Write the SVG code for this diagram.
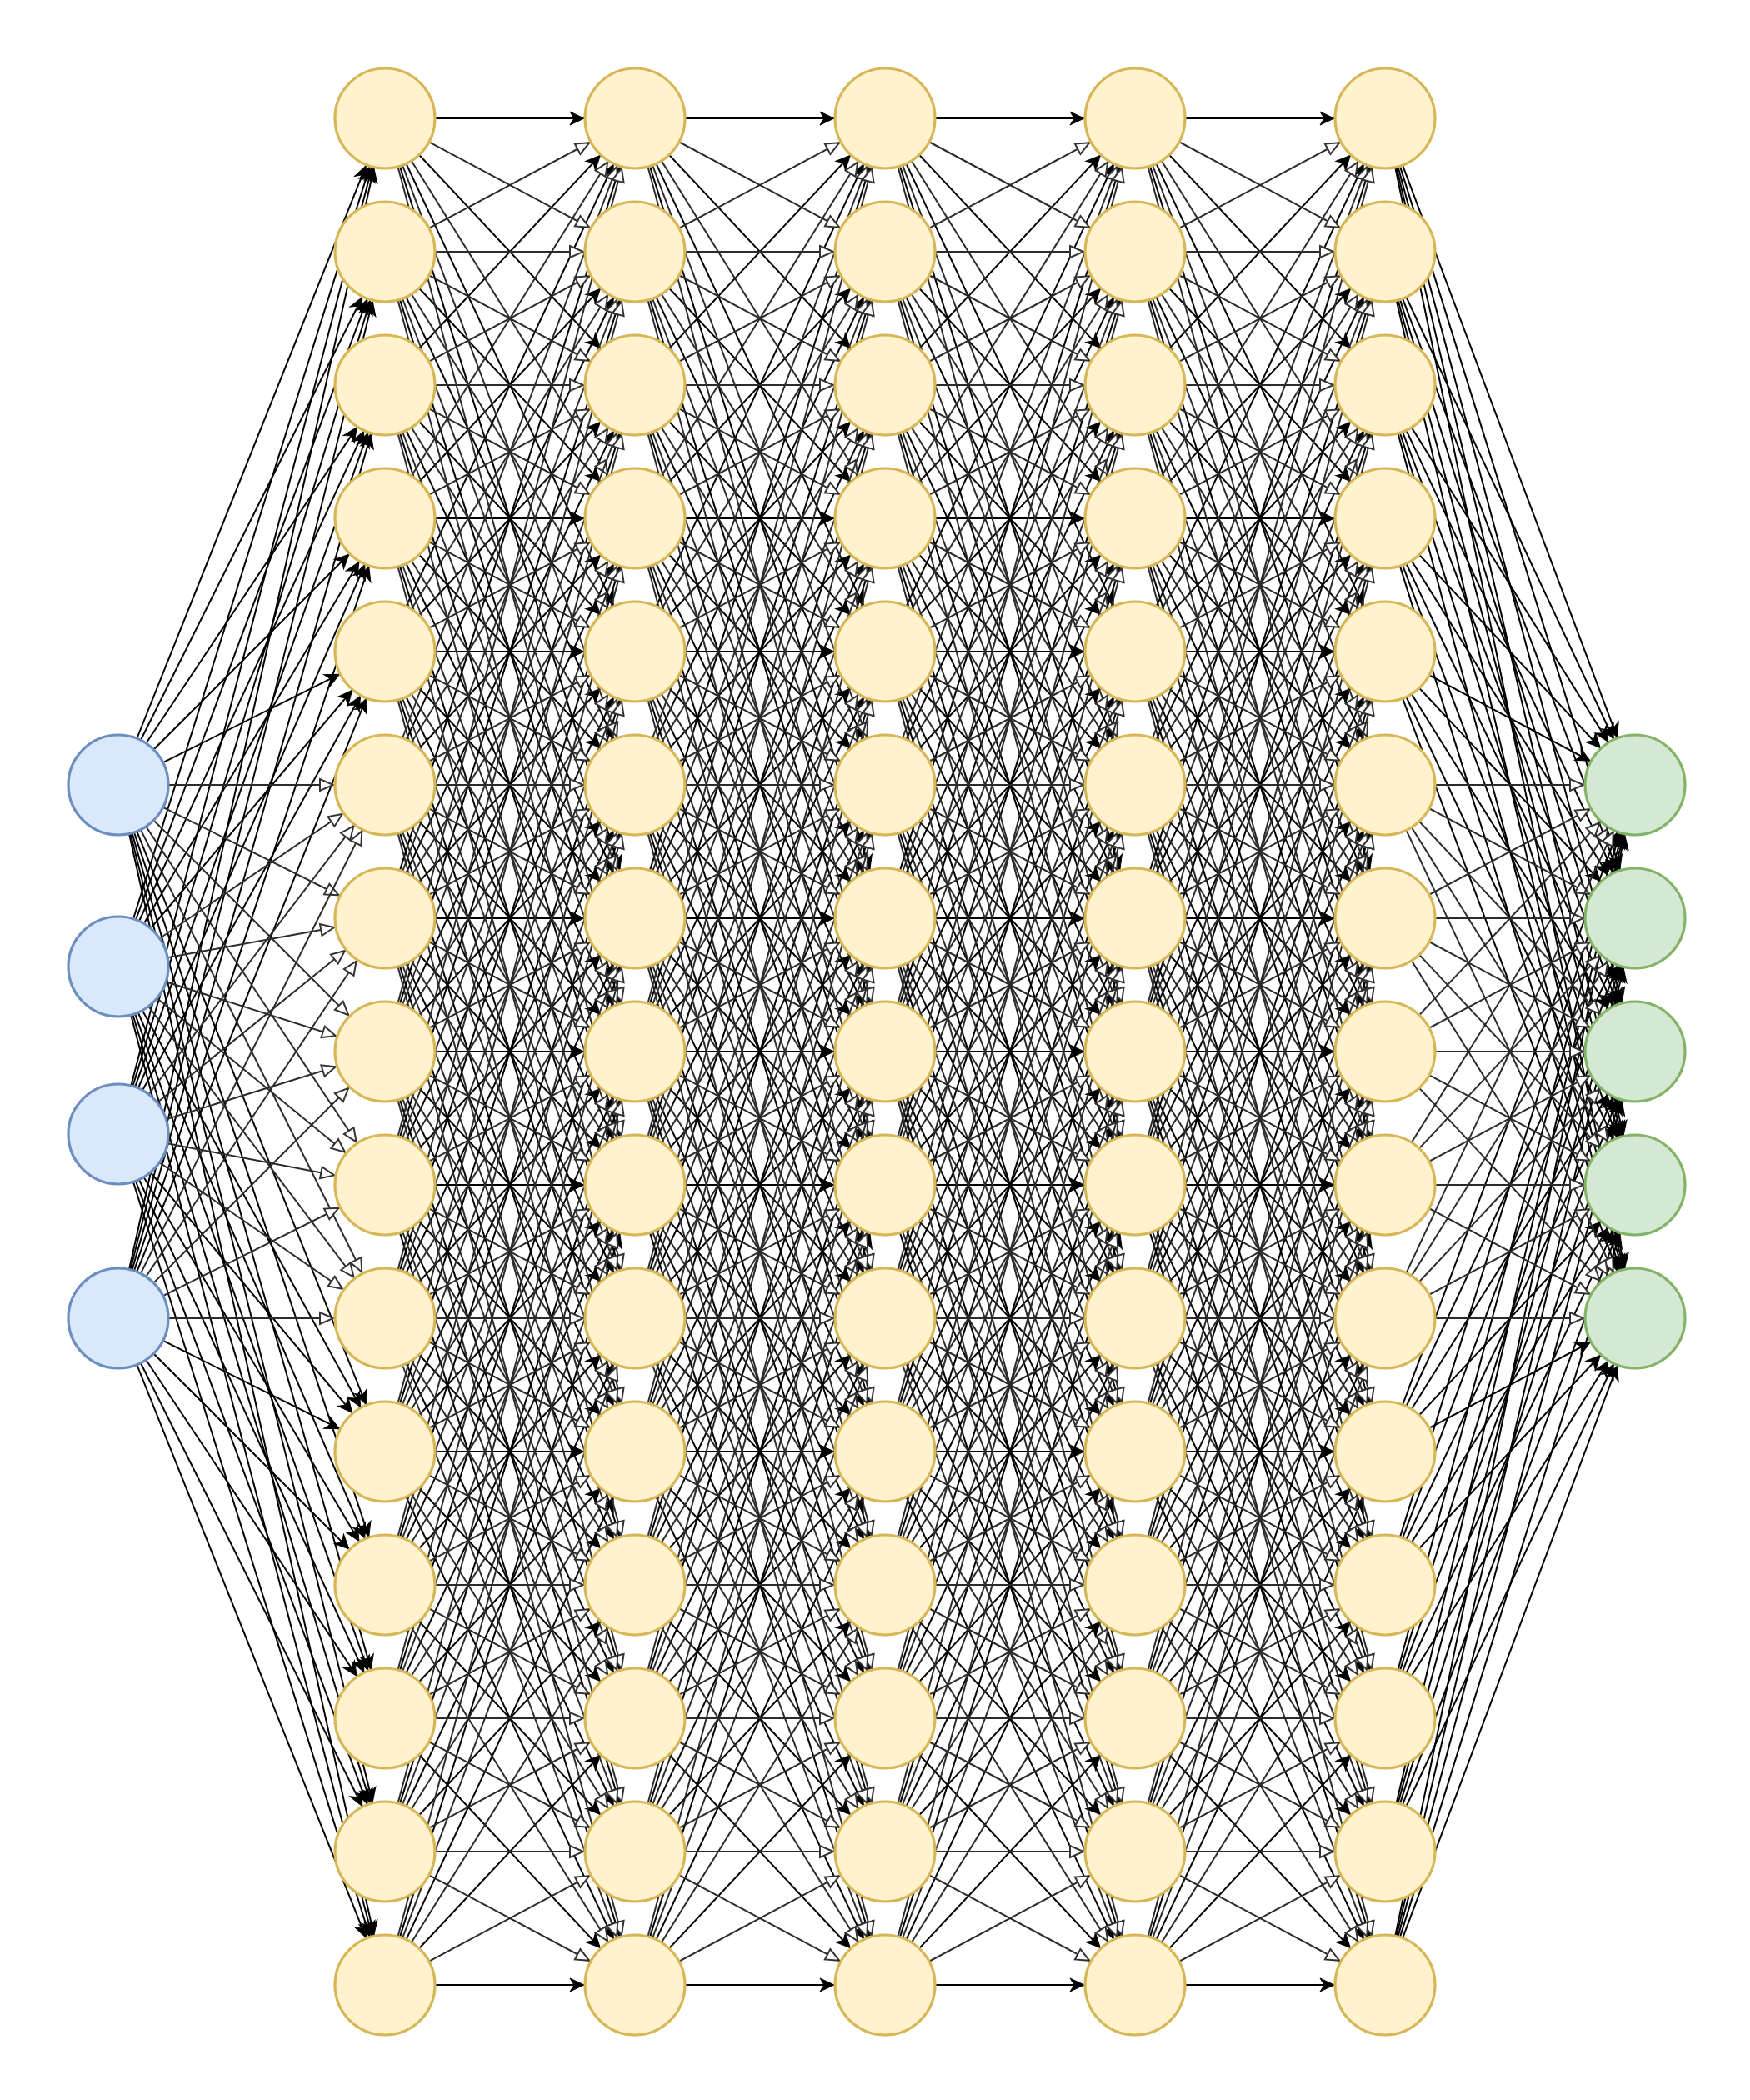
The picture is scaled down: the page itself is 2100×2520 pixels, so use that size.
<svg xmlns="http://www.w3.org/2000/svg" xmlns:xlink="http://www.w3.org/1999/xlink" width="2100" height="2520" viewBox="0 0 2100 2520">
<style>
.b path{stroke:#000;stroke-width:2;fill:none;marker-end:url(#ma)}
.g path{stroke:#2b2b2b;stroke-width:2;fill:none;marker-end:url(#mo)}
.y{fill:#fff2cc;stroke:#d6b656;stroke-width:3.2}
.i{fill:#dae8fc;stroke:#6c8ebf;stroke-width:3.2}
.o{fill:#d5e8d4;stroke:#82b366;stroke-width:3.2}
</style>
<defs>
<marker id="ma" viewBox="-20 -10 100 20" markerWidth="100" markerHeight="20" refX="61" refY="0" orient="auto" markerUnits="userSpaceOnUse"><path d="M0 0L-17 -8L-12 0L-17 8Z" fill="#000" stroke="#000" stroke-width="1"/></marker>
<marker id="mo" viewBox="-20 -10 100 20" markerWidth="100" markerHeight="20" refX="62" refY="0" orient="auto" markerUnits="userSpaceOnUse"><path d="M0 0L-16 -7L-16 7Z" fill="#fff" stroke="#333" stroke-width="2"/></marker>
<g id="gap">
<g class="b">
<path d="M0 142L300 142"/><path d="M0 142L300 462"/><path d="M0 142L300 782"/><path d="M0 142L300 1102"/>
<path d="M0 302L300 622"/><path d="M0 302L300 942"/><path d="M0 302L300 1262"/>
<path d="M0 462L300 142"/><path d="M0 462L300 782"/><path d="M0 462L300 1102"/><path d="M0 462L300 1422"/>
<path d="M0 622L300 302"/><path d="M0 622L300 622"/><path d="M0 622L300 942"/><path d="M0 622L300 1262"/><path d="M0 622L300 1582"/>
<path d="M0 782L300 142"/><path d="M0 782L300 462"/><path d="M0 782L300 782"/><path d="M0 782L300 1102"/><path d="M0 782L300 1422"/><path d="M0 782L300 1742"/>
<path d="M0 942L300 302"/><path d="M0 942L300 622"/><path d="M0 942L300 1262"/><path d="M0 942L300 1582"/><path d="M0 942L300 1902"/>
<path d="M0 1102L300 142"/><path d="M0 1102L300 462"/><path d="M0 1102L300 782"/><path d="M0 1102L300 1102"/><path d="M0 1102L300 1422"/><path d="M0 1102L300 1742"/><path d="M0 1102L300 2062"/>
<path d="M0 1262L300 302"/><path d="M0 1262L300 622"/><path d="M0 1262L300 942"/><path d="M0 1262L300 1262"/><path d="M0 1262L300 1582"/><path d="M0 1262L300 1902"/><path d="M0 1262L300 2222"/>
<path d="M0 1422L300 462"/><path d="M0 1422L300 782"/><path d="M0 1422L300 1102"/><path d="M0 1422L300 1422"/><path d="M0 1422L300 1742"/><path d="M0 1422L300 2062"/><path d="M0 1422L300 2382"/>
<path d="M0 1582L300 622"/><path d="M0 1582L300 942"/><path d="M0 1582L300 1262"/><path d="M0 1582L300 1902"/><path d="M0 1582L300 2222"/>
<path d="M0 1742L300 782"/><path d="M0 1742L300 1102"/><path d="M0 1742L300 1422"/><path d="M0 1742L300 1742"/><path d="M0 1742L300 2062"/><path d="M0 1742L300 2382"/>
<path d="M0 1902L300 942"/><path d="M0 1902L300 1262"/><path d="M0 1902L300 1582"/><path d="M0 1902L300 2222"/>
<path d="M0 2062L300 1102"/><path d="M0 2062L300 1422"/><path d="M0 2062L300 1742"/><path d="M0 2062L300 2382"/>
<path d="M0 2222L300 1262"/><path d="M0 2222L300 1582"/><path d="M0 2222L300 1902"/>
<path d="M0 2382L300 1422"/><path d="M0 2382L300 1742"/><path d="M0 2382L300 2062"/><path d="M0 2382L300 2382"/>
</g>
<g class="g">
<path d="M0 142L300 302"/><path d="M0 142L300 622"/><path d="M0 142L300 942"/><path d="M0 142L300 1262"/>
<path d="M0 302L300 142"/><path d="M0 302L300 302"/><path d="M0 302L300 462"/><path d="M0 302L300 782"/><path d="M0 302L300 1102"/><path d="M0 302L300 1422"/>
<path d="M0 462L300 302"/><path d="M0 462L300 462"/><path d="M0 462L300 622"/><path d="M0 462L300 942"/><path d="M0 462L300 1262"/><path d="M0 462L300 1582"/>
<path d="M0 622L300 142"/><path d="M0 622L300 462"/><path d="M0 622L300 782"/><path d="M0 622L300 1102"/><path d="M0 622L300 1422"/><path d="M0 622L300 1742"/>
<path d="M0 782L300 302"/><path d="M0 782L300 622"/><path d="M0 782L300 942"/><path d="M0 782L300 1262"/><path d="M0 782L300 1582"/><path d="M0 782L300 1902"/>
<path d="M0 942L300 142"/><path d="M0 942L300 462"/><path d="M0 942L300 782"/><path d="M0 942L300 942"/><path d="M0 942L300 1102"/><path d="M0 942L300 1422"/><path d="M0 942L300 1742"/><path d="M0 942L300 2062"/>
<path d="M0 1102L300 302"/><path d="M0 1102L300 622"/><path d="M0 1102L300 942"/><path d="M0 1102L300 1262"/><path d="M0 1102L300 1582"/><path d="M0 1102L300 1902"/><path d="M0 1102L300 2222"/>
<path d="M0 1262L300 142"/><path d="M0 1262L300 462"/><path d="M0 1262L300 782"/><path d="M0 1262L300 1102"/><path d="M0 1262L300 1422"/><path d="M0 1262L300 1742"/><path d="M0 1262L300 2062"/><path d="M0 1262L300 2382"/>
<path d="M0 1422L300 302"/><path d="M0 1422L300 622"/><path d="M0 1422L300 942"/><path d="M0 1422L300 1262"/><path d="M0 1422L300 1582"/><path d="M0 1422L300 1902"/><path d="M0 1422L300 2222"/>
<path d="M0 1582L300 462"/><path d="M0 1582L300 782"/><path d="M0 1582L300 1102"/><path d="M0 1582L300 1422"/><path d="M0 1582L300 1582"/><path d="M0 1582L300 1742"/><path d="M0 1582L300 2062"/><path d="M0 1582L300 2382"/>
<path d="M0 1742L300 622"/><path d="M0 1742L300 942"/><path d="M0 1742L300 1262"/><path d="M0 1742L300 1582"/><path d="M0 1742L300 1902"/><path d="M0 1742L300 2222"/>
<path d="M0 1902L300 782"/><path d="M0 1902L300 1102"/><path d="M0 1902L300 1422"/><path d="M0 1902L300 1742"/><path d="M0 1902L300 1902"/><path d="M0 1902L300 2062"/><path d="M0 1902L300 2382"/>
<path d="M0 2062L300 942"/><path d="M0 2062L300 1262"/><path d="M0 2062L300 1582"/><path d="M0 2062L300 1902"/><path d="M0 2062L300 2062"/><path d="M0 2062L300 2222"/>
<path d="M0 2222L300 1102"/><path d="M0 2222L300 1422"/><path d="M0 2222L300 1742"/><path d="M0 2222L300 2062"/><path d="M0 2222L300 2222"/><path d="M0 2222L300 2382"/>
<path d="M0 2382L300 1262"/><path d="M0 2382L300 1582"/><path d="M0 2382L300 1902"/><path d="M0 2382L300 2222"/>
</g>
</g>
</defs>
<g id="connectors">
<g id="input-edges">
<g class="b">
<path d="M142 942L462 142"/><path d="M142 942L462 302"/><path d="M142 942L462 462"/><path d="M142 942L462 622"/><path d="M142 942L462 782"/><path d="M142 942L462 1742"/><path d="M142 942L462 1902"/><path d="M142 942L462 2062"/><path d="M142 942L462 2222"/><path d="M142 942L462 2382"/>
<path d="M142 1160L462 142"/><path d="M142 1160L462 302"/><path d="M142 1160L462 462"/><path d="M142 1160L462 622"/><path d="M142 1160L462 782"/><path d="M142 1160L462 1742"/><path d="M142 1160L462 1902"/><path d="M142 1160L462 2062"/><path d="M142 1160L462 2222"/><path d="M142 1160L462 2382"/>
<path d="M142 1361L462 142"/><path d="M142 1361L462 302"/><path d="M142 1361L462 462"/><path d="M142 1361L462 622"/><path d="M142 1361L462 782"/><path d="M142 1361L462 1742"/><path d="M142 1361L462 1902"/><path d="M142 1361L462 2062"/><path d="M142 1361L462 2222"/><path d="M142 1361L462 2382"/>
<path d="M142 1582L462 142"/><path d="M142 1582L462 302"/><path d="M142 1582L462 462"/><path d="M142 1582L462 622"/><path d="M142 1582L462 782"/><path d="M142 1582L462 1742"/><path d="M142 1582L462 1902"/><path d="M142 1582L462 2062"/><path d="M142 1582L462 2222"/><path d="M142 1582L462 2382"/>
</g>
<g class="g">
<path d="M142 942L462 942"/><path d="M142 942L462 1102"/><path d="M142 942L462 1262"/><path d="M142 942L462 1422"/><path d="M142 942L462 1582"/>
<path d="M142 1160L462 942"/><path d="M142 1160L462 1102"/><path d="M142 1160L462 1262"/><path d="M142 1160L462 1422"/><path d="M142 1160L462 1582"/>
<path d="M142 1361L462 942"/><path d="M142 1361L462 1102"/><path d="M142 1361L462 1262"/><path d="M142 1361L462 1422"/><path d="M142 1361L462 1582"/>
<path d="M142 1582L462 942"/><path d="M142 1582L462 1102"/><path d="M142 1582L462 1262"/><path d="M142 1582L462 1422"/><path d="M142 1582L462 1582"/>
</g>
</g>
<g id="hidden-edges">
<use xlink:href="#gap" href="#gap" x="462" y="0"/>
<use xlink:href="#gap" href="#gap" x="762" y="0"/>
<use xlink:href="#gap" href="#gap" x="1062" y="0"/>
<use xlink:href="#gap" href="#gap" x="1362" y="0"/>
</g>
<g id="output-edges">
<g class="b">
<path d="M1662 142L1962 942"/><path d="M1662 142L1962 1102"/><path d="M1662 142L1962 1262"/><path d="M1662 142L1962 1422"/><path d="M1662 142L1962 1582"/>
<path d="M1662 302L1962 942"/><path d="M1662 302L1962 1102"/><path d="M1662 302L1962 1262"/><path d="M1662 302L1962 1422"/><path d="M1662 302L1962 1582"/>
<path d="M1662 462L1962 942"/><path d="M1662 462L1962 1102"/><path d="M1662 462L1962 1262"/><path d="M1662 462L1962 1422"/><path d="M1662 462L1962 1582"/>
<path d="M1662 622L1962 942"/><path d="M1662 622L1962 1102"/><path d="M1662 622L1962 1262"/><path d="M1662 622L1962 1422"/><path d="M1662 622L1962 1582"/>
<path d="M1662 782L1962 942"/><path d="M1662 782L1962 1102"/><path d="M1662 782L1962 1262"/><path d="M1662 782L1962 1422"/><path d="M1662 782L1962 1582"/>
<path d="M1662 1742L1962 942"/><path d="M1662 1742L1962 1102"/><path d="M1662 1742L1962 1262"/><path d="M1662 1742L1962 1422"/><path d="M1662 1742L1962 1582"/>
<path d="M1662 1902L1962 942"/><path d="M1662 1902L1962 1102"/><path d="M1662 1902L1962 1262"/><path d="M1662 1902L1962 1422"/><path d="M1662 1902L1962 1582"/>
<path d="M1662 2062L1962 942"/><path d="M1662 2062L1962 1102"/><path d="M1662 2062L1962 1262"/><path d="M1662 2062L1962 1422"/><path d="M1662 2062L1962 1582"/>
<path d="M1662 2222L1962 942"/><path d="M1662 2222L1962 1102"/><path d="M1662 2222L1962 1262"/><path d="M1662 2222L1962 1422"/><path d="M1662 2222L1962 1582"/>
<path d="M1662 2382L1962 942"/><path d="M1662 2382L1962 1102"/><path d="M1662 2382L1962 1262"/><path d="M1662 2382L1962 1422"/><path d="M1662 2382L1962 1582"/>
</g>
<g class="g">
<path d="M1662 942L1962 942"/><path d="M1662 942L1962 1102"/><path d="M1662 942L1962 1262"/><path d="M1662 942L1962 1422"/><path d="M1662 942L1962 1582"/>
<path d="M1662 1102L1962 942"/><path d="M1662 1102L1962 1102"/><path d="M1662 1102L1962 1262"/><path d="M1662 1102L1962 1422"/><path d="M1662 1102L1962 1582"/>
<path d="M1662 1262L1962 942"/><path d="M1662 1262L1962 1102"/><path d="M1662 1262L1962 1262"/><path d="M1662 1262L1962 1422"/><path d="M1662 1262L1962 1582"/>
<path d="M1662 1422L1962 942"/><path d="M1662 1422L1962 1102"/><path d="M1662 1422L1962 1262"/><path d="M1662 1422L1962 1422"/><path d="M1662 1422L1962 1582"/>
<path d="M1662 1582L1962 942"/><path d="M1662 1582L1962 1102"/><path d="M1662 1582L1962 1262"/><path d="M1662 1582L1962 1422"/><path d="M1662 1582L1962 1582"/>
</g>
</g>
</g>
<g id="nodes">
<g id="in0"><circle class="i" cx="142" cy="942" r="60"/></g>
<g id="in1"><circle class="i" cx="142" cy="1160" r="60"/></g>
<g id="in2"><circle class="i" cx="142" cy="1361" r="60"/></g>
<g id="in3"><circle class="i" cx="142" cy="1582" r="60"/></g>
<g id="h1_0"><circle class="y" cx="462" cy="142" r="60"/></g>
<g id="h1_1"><circle class="y" cx="462" cy="302" r="60"/></g>
<g id="h1_2"><circle class="y" cx="462" cy="462" r="60"/></g>
<g id="h1_3"><circle class="y" cx="462" cy="622" r="60"/></g>
<g id="h1_4"><circle class="y" cx="462" cy="782" r="60"/></g>
<g id="h1_5"><circle class="y" cx="462" cy="942" r="60"/></g>
<g id="h1_6"><circle class="y" cx="462" cy="1102" r="60"/></g>
<g id="h1_7"><circle class="y" cx="462" cy="1262" r="60"/></g>
<g id="h1_8"><circle class="y" cx="462" cy="1422" r="60"/></g>
<g id="h1_9"><circle class="y" cx="462" cy="1582" r="60"/></g>
<g id="h1_10"><circle class="y" cx="462" cy="1742" r="60"/></g>
<g id="h1_11"><circle class="y" cx="462" cy="1902" r="60"/></g>
<g id="h1_12"><circle class="y" cx="462" cy="2062" r="60"/></g>
<g id="h1_13"><circle class="y" cx="462" cy="2222" r="60"/></g>
<g id="h1_14"><circle class="y" cx="462" cy="2382" r="60"/></g>
<g id="h2_0"><circle class="y" cx="762" cy="142" r="60"/></g>
<g id="h2_1"><circle class="y" cx="762" cy="302" r="60"/></g>
<g id="h2_2"><circle class="y" cx="762" cy="462" r="60"/></g>
<g id="h2_3"><circle class="y" cx="762" cy="622" r="60"/></g>
<g id="h2_4"><circle class="y" cx="762" cy="782" r="60"/></g>
<g id="h2_5"><circle class="y" cx="762" cy="942" r="60"/></g>
<g id="h2_6"><circle class="y" cx="762" cy="1102" r="60"/></g>
<g id="h2_7"><circle class="y" cx="762" cy="1262" r="60"/></g>
<g id="h2_8"><circle class="y" cx="762" cy="1422" r="60"/></g>
<g id="h2_9"><circle class="y" cx="762" cy="1582" r="60"/></g>
<g id="h2_10"><circle class="y" cx="762" cy="1742" r="60"/></g>
<g id="h2_11"><circle class="y" cx="762" cy="1902" r="60"/></g>
<g id="h2_12"><circle class="y" cx="762" cy="2062" r="60"/></g>
<g id="h2_13"><circle class="y" cx="762" cy="2222" r="60"/></g>
<g id="h2_14"><circle class="y" cx="762" cy="2382" r="60"/></g>
<g id="h3_0"><circle class="y" cx="1062" cy="142" r="60"/></g>
<g id="h3_1"><circle class="y" cx="1062" cy="302" r="60"/></g>
<g id="h3_2"><circle class="y" cx="1062" cy="462" r="60"/></g>
<g id="h3_3"><circle class="y" cx="1062" cy="622" r="60"/></g>
<g id="h3_4"><circle class="y" cx="1062" cy="782" r="60"/></g>
<g id="h3_5"><circle class="y" cx="1062" cy="942" r="60"/></g>
<g id="h3_6"><circle class="y" cx="1062" cy="1102" r="60"/></g>
<g id="h3_7"><circle class="y" cx="1062" cy="1262" r="60"/></g>
<g id="h3_8"><circle class="y" cx="1062" cy="1422" r="60"/></g>
<g id="h3_9"><circle class="y" cx="1062" cy="1582" r="60"/></g>
<g id="h3_10"><circle class="y" cx="1062" cy="1742" r="60"/></g>
<g id="h3_11"><circle class="y" cx="1062" cy="1902" r="60"/></g>
<g id="h3_12"><circle class="y" cx="1062" cy="2062" r="60"/></g>
<g id="h3_13"><circle class="y" cx="1062" cy="2222" r="60"/></g>
<g id="h3_14"><circle class="y" cx="1062" cy="2382" r="60"/></g>
<g id="h4_0"><circle class="y" cx="1362" cy="142" r="60"/></g>
<g id="h4_1"><circle class="y" cx="1362" cy="302" r="60"/></g>
<g id="h4_2"><circle class="y" cx="1362" cy="462" r="60"/></g>
<g id="h4_3"><circle class="y" cx="1362" cy="622" r="60"/></g>
<g id="h4_4"><circle class="y" cx="1362" cy="782" r="60"/></g>
<g id="h4_5"><circle class="y" cx="1362" cy="942" r="60"/></g>
<g id="h4_6"><circle class="y" cx="1362" cy="1102" r="60"/></g>
<g id="h4_7"><circle class="y" cx="1362" cy="1262" r="60"/></g>
<g id="h4_8"><circle class="y" cx="1362" cy="1422" r="60"/></g>
<g id="h4_9"><circle class="y" cx="1362" cy="1582" r="60"/></g>
<g id="h4_10"><circle class="y" cx="1362" cy="1742" r="60"/></g>
<g id="h4_11"><circle class="y" cx="1362" cy="1902" r="60"/></g>
<g id="h4_12"><circle class="y" cx="1362" cy="2062" r="60"/></g>
<g id="h4_13"><circle class="y" cx="1362" cy="2222" r="60"/></g>
<g id="h4_14"><circle class="y" cx="1362" cy="2382" r="60"/></g>
<g id="h5_0"><circle class="y" cx="1662" cy="142" r="60"/></g>
<g id="h5_1"><circle class="y" cx="1662" cy="302" r="60"/></g>
<g id="h5_2"><circle class="y" cx="1662" cy="462" r="60"/></g>
<g id="h5_3"><circle class="y" cx="1662" cy="622" r="60"/></g>
<g id="h5_4"><circle class="y" cx="1662" cy="782" r="60"/></g>
<g id="h5_5"><circle class="y" cx="1662" cy="942" r="60"/></g>
<g id="h5_6"><circle class="y" cx="1662" cy="1102" r="60"/></g>
<g id="h5_7"><circle class="y" cx="1662" cy="1262" r="60"/></g>
<g id="h5_8"><circle class="y" cx="1662" cy="1422" r="60"/></g>
<g id="h5_9"><circle class="y" cx="1662" cy="1582" r="60"/></g>
<g id="h5_10"><circle class="y" cx="1662" cy="1742" r="60"/></g>
<g id="h5_11"><circle class="y" cx="1662" cy="1902" r="60"/></g>
<g id="h5_12"><circle class="y" cx="1662" cy="2062" r="60"/></g>
<g id="h5_13"><circle class="y" cx="1662" cy="2222" r="60"/></g>
<g id="h5_14"><circle class="y" cx="1662" cy="2382" r="60"/></g>
<g id="out0"><circle class="o" cx="1962" cy="942" r="60"/></g>
<g id="out1"><circle class="o" cx="1962" cy="1102" r="60"/></g>
<g id="out2"><circle class="o" cx="1962" cy="1262" r="60"/></g>
<g id="out3"><circle class="o" cx="1962" cy="1422" r="60"/></g>
<g id="out4"><circle class="o" cx="1962" cy="1582" r="60"/></g>
</g>
</svg>
